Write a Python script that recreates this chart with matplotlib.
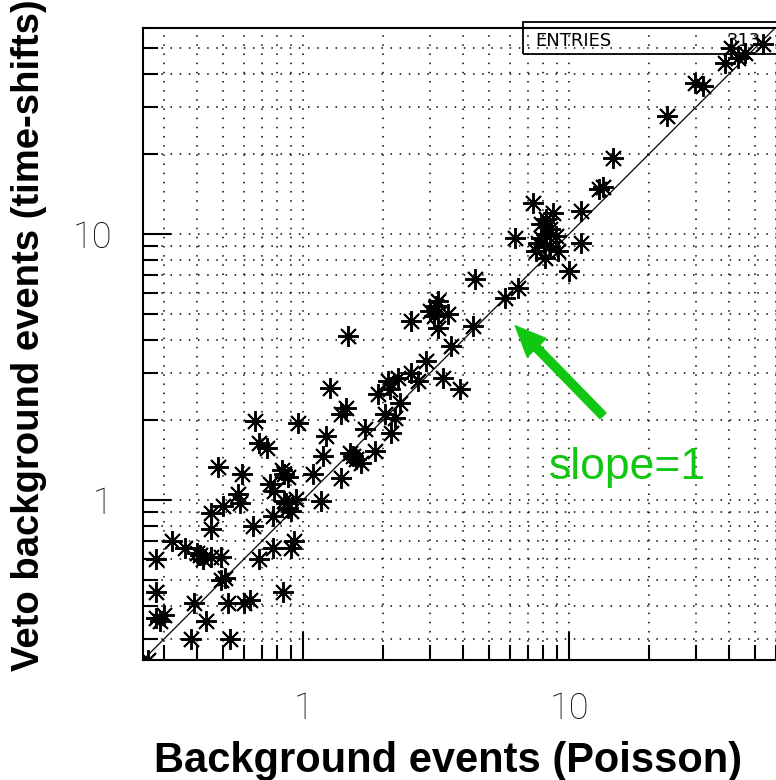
import numpy as np
import matplotlib
matplotlib.use('Agg')
import matplotlib.pyplot as plt
from matplotlib.patches import Rectangle
from matplotlib.ticker import LogLocator, NullFormatter

# Background events: Poisson expectation (x) vs veto time-shift estimate (y)
bkg_poisson = [
    0.26, 0.28, 0.29, 0.30, 0.38, 0.53, 0.43, 0.39, 0.52, 0.60,
    0.63, 0.28, 0.84, 0.49, 0.51, 0.28, 0.32, 0.36, 0.41, 0.40,
    0.42, 0.45, 0.49, 0.68, 0.77, 0.92, 0.90, 0.65, 0.45, 0.45,
    0.50, 0.57, 0.58, 0.77, 0.88, 0.86, 0.90, 0.85, 0.94, 1.17,
    0.75, 0.78, 0.85, 0.83, 0.88, 0.59, 0.48, 0.73, 0.68, 1.09,
    1.39, 1.19, 1.54, 1.50, 1.58, 1.65, 1.86, 0.66, 0.96, 1.22,
    1.71, 2.14, 1.39, 1.45, 1.26, 2.03, 2.22, 2.31, 1.91, 2.12,
    2.28, 2.55, 2.71, 2.90, 3.36, 3.89, 2.09, 1.48, 3.60, 2.55,
    3.16, 3.00, 3.22, 3.10, 3.51, 3.22, 4.36, 4.43, 5.74, 6.43,
    10.0, 8.13, 7.52, 7.86, 8.20, 7.64, 8.50, 6.27, 7.33, 8.70,
    11.1, 11.1, 7.86, 8.20, 8.90, 9.10, 8.50, 12.9, 13.4, 14.6,
    23.4, 29.7, 31.8, 38.6, 43.1, 45.9, 53.6, 40.7,
]
veto_timeshift = [
    0.25, 0.36, 0.35, 0.37, 0.30, 0.30, 0.35, 0.41, 0.41, 0.41,
    0.42, 0.45, 0.45, 0.50, 0.51, 0.60, 0.70, 0.66, 0.62, 0.63,
    0.60, 0.61, 0.61, 0.60, 0.66, 0.70, 0.66, 0.80, 0.78, 0.89,
    0.95, 1.05, 0.97, 0.87, 0.93, 0.97, 0.91, 0.99, 1.01, 0.99,
    1.15, 1.08, 1.25, 1.29, 1.22, 1.25, 1.33, 1.57, 1.64, 1.25,
    1.21, 1.46, 1.46, 1.50, 1.43, 1.37, 1.53, 1.98, 1.95, 1.74,
    1.85, 1.79, 2.10, 2.22, 2.64, 2.10, 2.03, 2.31, 2.50, 2.61,
    2.87, 3.00, 2.80, 3.33, 2.87, 2.61, 2.80, 4.14, 3.79, 4.71,
    5.36, 5.13, 5.60, 4.92, 5.00, 4.43, 4.51, 6.78, 5.74, 6.27,
    7.25, 8.13, 8.60, 9.65, 10.0, 9.23, 9.00, 9.65, 13.1, 12.0,
    12.2, 9.20, 10.9, 11.4, 9.80, 8.60, 10.4, 14.7, 15.0, 19.3,
    27.8, 36.9, 36.0, 44.0, 45.9, 48.0, 51.9, 50.0,
]
n_entries = 313
tick_vals = [1, 10]
tick_text = ['1', '10']

green = '#10c810'

fig = plt.figure(figsize=(7.76, 7.8), dpi=100)
ax = fig.add_axes([143 / 776, 120 / 780, 634 / 776, 632 / 780])
ax.set_xscale('log')
ax.set_yscale('log')
ax.set_xlim(0.25, 60.4)
ax.set_ylim(0.25, 59.4)

ax.grid(True, which='both', color='black', lw=1.1, ls=(0, (1, 5)), zorder=0)
ax.set_axisbelow(True)

# slope = 1 reference line
ax.axline((1, 1), (10, 10), color='black', lw=0.9, zorder=2)

ax.plot(bkg_poisson, veto_timeshift, ls='none', marker=(8, 2, 0), ms=15,
        mew=1.4, color='black', zorder=3)

ax.set_xticks(tick_vals, labels=tick_text, fontsize=26, family='Roboto',
              fontweight='light', color='#111111')
ax.set_yticks(tick_vals, labels=tick_text, fontsize=26, family='Roboto',
              fontweight='light', color='#111111')
for axis in (ax.xaxis, ax.yaxis):
    axis.set_minor_locator(LogLocator(base=10, subs=np.arange(2, 10)))
    axis.set_minor_formatter(NullFormatter())
ax.tick_params(which='major', direction='in', length=20, width=1.5, pad=22)
ax.tick_params(which='minor', direction='in', length=11, width=1.5)
for s in ax.spines.values():
    s.set_linewidth(1.5)

ax.set_xlabel('Background events (Poisson)', fontsize=30, fontweight='bold',
              family='Liberation Sans')
ax.xaxis.set_label_coords(0.481, -0.128)
ax.set_ylabel('Veto background events (time-shifts)', fontsize=27.5,
              fontweight='bold', family='Liberation Sans')
ax.yaxis.set_label_coords(-0.152, 0.514)

# statistics box
ax.add_patch(Rectangle((0.6, 0.959), 0.41, 0.05, transform=ax.transAxes,
                       fill=False, lw=1.3, ec='black', clip_on=False))
ax.text(0.618, 0.979, 'ENTRIES', transform=ax.transAxes, fontsize=13,
        va='center', ha='left', family='DejaVu Sans')
ax.text(0.975, 0.979, str(n_entries), transform=ax.transAxes, fontsize=13,
        va='center', ha='right', family='DejaVu Sans')

ax.annotate('', xy=(6.27, 4.51), xytext=(13.4, 2.07),
            arrowprops=dict(color=green, width=6, headwidth=19,
                            headlength=22, shrink=0))
ax.text(16.5, 1.32, 'slope=1', color=green, fontsize=32, ha='center',
        va='center', family='Liberation Sans')

fig.savefig('out.png', dpi=100)
